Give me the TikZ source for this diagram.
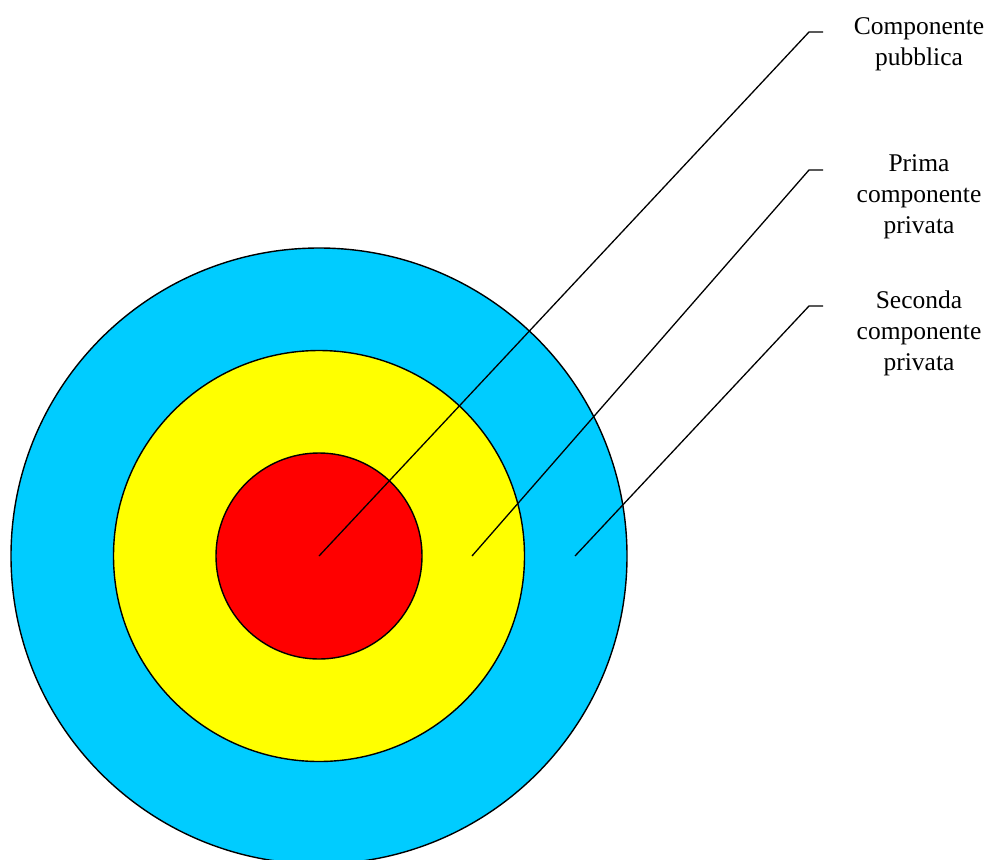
\documentclass[tikz,border=0pt]{standalone}
\usepackage{fontspec}
\setmainfont{Liberation Serif}
\usepackage{tikz}
\usetikzlibrary{positioning}
\definecolor{ringOuter}{RGB}{0,204,255}
\definecolor{ringMiddle}{RGB}{255,255,0}
\definecolor{ringInner}{RGB}{255,0,0}

\begin{document}
\begin{tikzpicture}[x=1pt, y=-1pt,
    ring/.style={circle, draw=black, line width=1.4pt, inner sep=0pt},
    tag/.style={align=center, inner sep=0pt, font=\fontsize{25.5}{31}\selectfont},
    callout/.style={line width=1.3pt}]
  % page frame -- the outer ring runs off the bottom edge
  \useasboundingbox (0,0) rectangle (992,859);
  \clip (0,0) rectangle (992,859);
  % the three rings, outer one first so the others sit on top
  \node[ring, fill=ringOuter, minimum size=616pt] (outer) at (319,556) {};
  \node[ring, fill=ringMiddle, minimum size=411pt] (middle) at (319,556) {};
  \node[ring, fill=ringInner, minimum size=206pt] (inner) at (319,556) {};
  % points inside each ring where the callouts start
  \coordinate (pMid) at (472,556);
  \coordinate (pOut) at (575,556);
  % labels on the right
  \node[tag] (pub) at (919,44.5) {Componente\\pubblica};
  \node[tag] (priv1) at (919,197) {Prima\\componente\\privata};
  \node[tag] (priv2) at (919,333) {Seconda\\componente\\privata};
  % free ends of the callouts, just left of each label
  \coordinate (pubEnd) at (823,32);
  \coordinate (priv1End) at (823,170);
  \coordinate (priv2End) at (823,306);
  \draw[callout] (inner.center) -- (809,32) -- (pubEnd);
  \draw[callout] (pMid) -- (809,170) -- (priv1End);
  \draw[callout] (pOut) -- (809,306) -- (priv2End);
\end{tikzpicture}
\end{document}
